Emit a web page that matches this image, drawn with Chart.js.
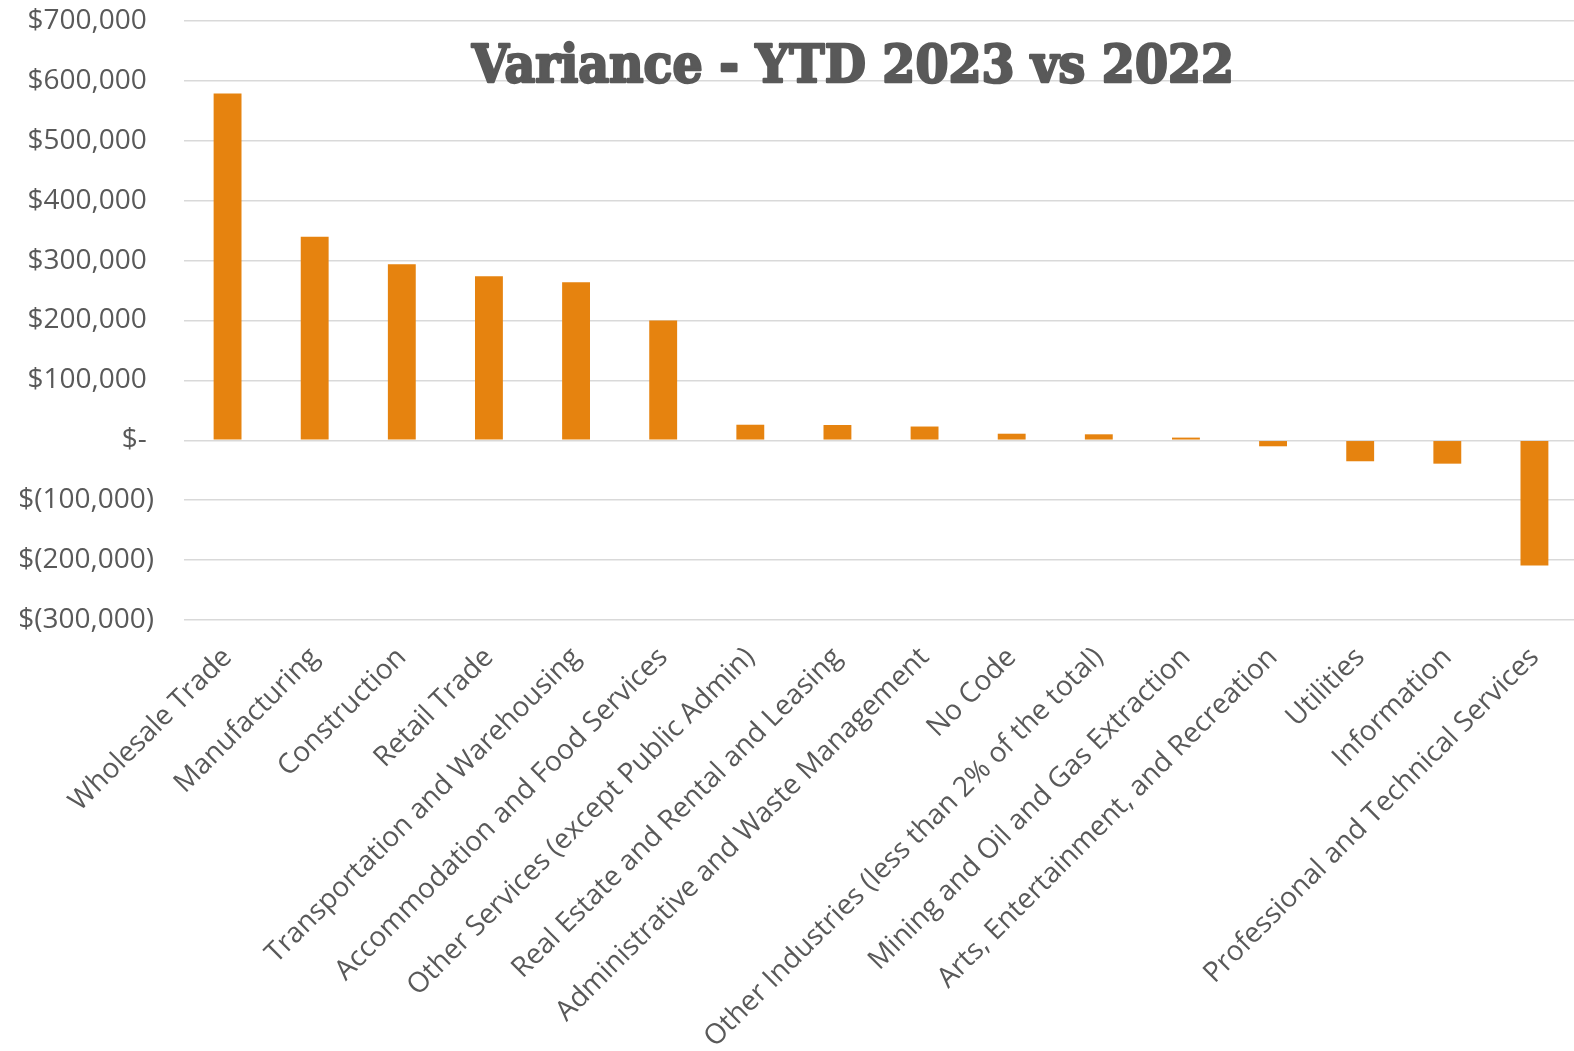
<!DOCTYPE html>
<html>
<head>
<meta charset="utf-8">
<script src="https://cdn.jsdelivr.net/npm/chart.js@4"></script>
<style>
  html, body { margin: 0; background: #fff; overflow: hidden; }
</style>
</head>
<body>
<!-- the plot runs slightly past the right edge of the window, as in the original -->
<canvas id="chart" width="1578" height="1051"></canvas>
<script>
const categories = [
  "Wholesale Trade",
  "Manufacturing",
  "Construction",
  "Retail Trade",
  "Transportation and Warehousing",
  "Accommodation and Food Services",
  "Other Services (except Public Admin)",
  "Real Estate and Rental and Leasing",
  "Administrative and Waste Management",
  "No Code",
  "Other Industries (less than 2% of the total)",
  "Mining and Oil and Gas Extraction",
  "Arts, Entertainment, and Recreation",
  "Utilities",
  "Information",
  "Professional and Technical Services"
];
const variance = [
  579000, 340000, 294000, 274000, 264000, 200000,
  26000, 25500, 23000, 11000, 10000, 4500,
  -10000, -35000, -39000, -209000
];
const titleText = "Variance - YTD 2023 vs 2022";

const textColor = "#595959";
const barColor = "#E6830F";

// accounting style labels: $700,000  $-  $(100,000)
const money = v => {
  if (v === 0) return "$- ";
  const s = Math.abs(v).toLocaleString("en-US");
  return v < 0 ? "$(" + s + ")" : "$" + s + " ";
};

const titlePlugin = {
  id: "slabTitle",
  afterDraw(chart) {
    const ctx = chart.ctx;
    ctx.save();
    ctx.font = "bold 52px 'DejaVu Serif'";
    ctx.fillStyle = textColor;
    ctx.strokeStyle = textColor;
    ctx.lineWidth = 2.5;
    ctx.lineJoin = "round";
    ctx.textAlign = "center";
    ctx.textBaseline = "alphabetic";
    const w = ctx.measureText(titleText).width;
    const sx = 762 / w;
    ctx.translate(853, 82);
    ctx.scale(sx, 1);
    ctx.fillText(titleText, 0, 0);
    ctx.strokeText(titleText, 0, 0);
    ctx.restore();
  }
};

new Chart(document.getElementById("chart"), {
  type: "bar",
  data: {
    labels: categories,
    datasets: [{
      data: variance,
      backgroundColor: barColor,
      barPercentage: 0.32,
      categoryPercentage: 1.0
    }]
  },
  options: {
    responsive: false,
    animation: false,
    layout: { padding: { top: 21, right: 0, bottom: 0, left: 0 } },
    plugins: {
      legend: { display: false },
      tooltip: { enabled: false }
    },
    scales: {
      x: {
        grid: { display: false },
        border: { display: false },
        ticks: {
          color: textColor,
          font: { family: "'Open Sans'", size: 28 },
          minRotation: 45,
          maxRotation: 45,
          autoSkip: false,
          padding: 13
        },
        afterFit: scale => { scale.height = 431; }
      },
      y: {
        min: -300000,
        max: 700000,
        grid: { color: "#d9d9d9", lineWidth: 1.5, drawTicks: false },
        border: { display: false },
        ticks: {
          stepSize: 100000,
          color: textColor,
          font: { family: "'Open Sans'", size: 28 },
          padding: 30,
          callback: v => money(v)
        },
        afterFit: scale => {
          scale.width = 184;
          scale.paddingTop = 0;
          scale.paddingBottom = 0;
        }
      }
    }
  },
  plugins: [titlePlugin]
});
</script>
</body>
</html>
